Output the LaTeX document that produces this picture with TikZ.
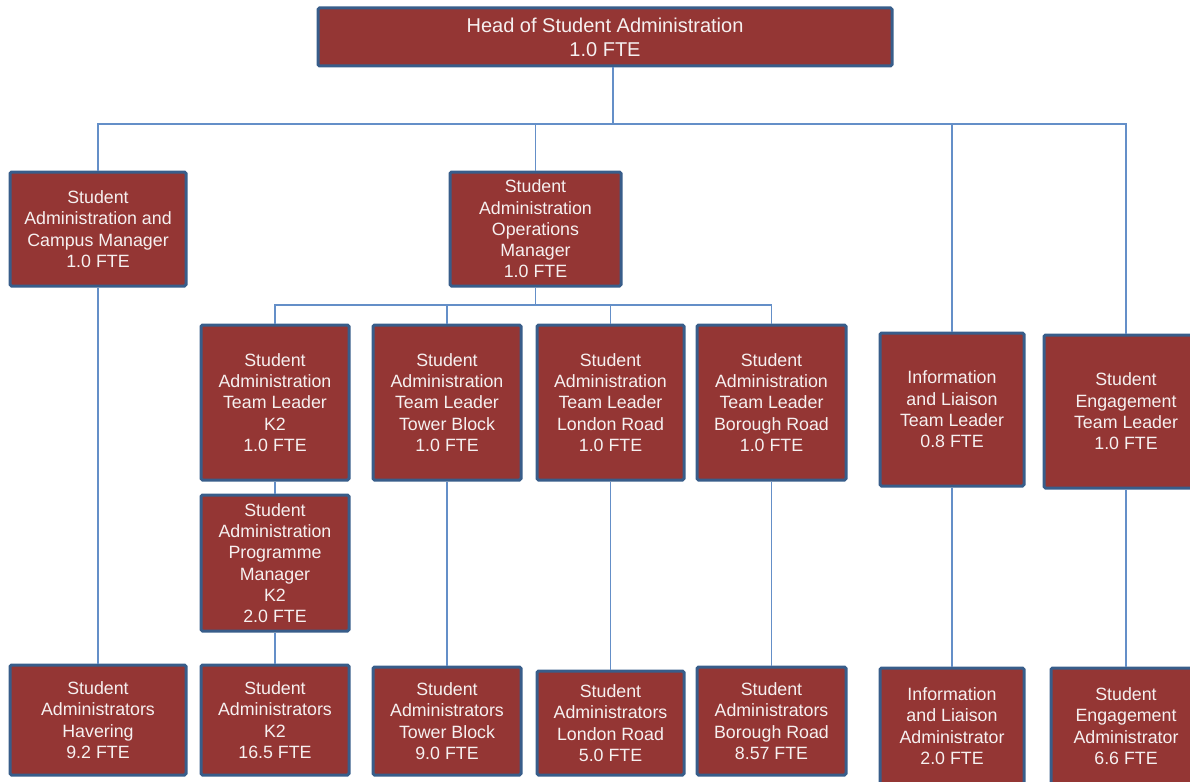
\documentclass[tikz,border=0pt]{standalone}
\usepackage{fontspec}
\setmainfont{Liberation Sans}
\definecolor{boxfill}{RGB}{148,54,52}
\definecolor{boxedge}{RGB}{56,93,138}
\definecolor{linkblue}{RGB}{100,143,200}
\definecolor{boxtext}{RGB}{246,240,240}
\begin{document}
\begin{tikzpicture}[x=1pt,y=-1pt,
  post/.style={draw=boxedge, line width=3pt, fill=boxfill, rounded corners=1.5pt,
    text=boxtext, align=center, inner sep=0pt,
    font=\fontsize{17.8pt}{21.3pt}\selectfont},
  headpost/.style={post, font=\fontsize{20pt}{24pt}\selectfont},
  link/.style={draw=linkblue, line width=1.4pt}]
\useasboundingbox (0,0) rectangle (1190,781);
\clip (0,0) rectangle (1190,781);

% top of the structure
\node[headpost, minimum width=574pt, minimum height=58pt] (head) at (605,37)
  {Head of Student Administration\\1.0 FTE};

% second tier
\node[post, minimum width=176pt, minimum height=114pt] (campus) at (98,229)
  {Student\\Administration and\\Campus Manager\\1.0 FTE};
\node[post, minimum width=171pt, minimum height=114pt] (ops) at (535.5,229)
  {Student\\Administration\\Operations\\Manager\\1.0 FTE};
\node[post, minimum width=144pt, minimum height=153pt] (infotl) at (952,409.5)
  {Information\\and Liaison\\Team Leader\\0.8 FTE};
\node[post, minimum width=164pt, minimum height=153pt] (engtl) at (1126,411.5)
  {Student\\Engagement\\Team Leader\\1.0 FTE};

% team leaders under operations
\node[post, minimum width=148pt, minimum height=155pt] (tlk2) at (275,402.5)
  {Student\\Administration\\Team Leader\\K2\\1.0 FTE};
\node[post, minimum width=148pt, minimum height=155pt] (tltb) at (447,402.5)
  {Student\\Administration\\Team Leader\\Tower Block\\1.0 FTE};
\node[post, minimum width=147pt, minimum height=155pt] (tllr) at (610.5,402.5)
  {Student\\Administration\\Team Leader\\London Road\\1.0 FTE};
\node[post, minimum width=149pt, minimum height=155pt] (tlbr) at (771.5,402.5)
  {Student\\Administration\\Team Leader\\Borough Road\\1.0 FTE};

\node[post, minimum width=148pt, minimum height=136pt] (progk2) at (275,563)
  {Student\\Administration\\Programme\\Manager\\K2\\2.0 FTE};

% administrator teams
\node[post, minimum width=176pt, minimum height=110pt] (sahav) at (98,720)
  {Student\\Administrators\\Havering\\9.2 FTE};
\node[post, minimum width=148pt, minimum height=110pt] (sak2) at (275,720)
  {Student\\Administrators\\K2\\16.5 FTE};
\node[post, minimum width=148pt, minimum height=108pt] (satb) at (447,721)
  {Student\\Administrators\\Tower Block\\9.0 FTE};
\node[post, minimum width=147pt, minimum height=104pt] (salr) at (610.5,723)
  {Student\\Administrators\\London Road\\5.0 FTE};
\node[post, minimum width=149pt, minimum height=108pt] (sabr) at (771.5,721)
  {Student\\Administrators\\Borough Road\\8.57 FTE};
\node[post, minimum width=144pt, minimum height=116pt] (infoadm) at (952,726)
  {Information\\and Liaison\\Administrator\\2.0 FTE};
\node[post, minimum width=150pt, minimum height=116pt] (engadm) at (1126,726)
  {Student\\Engagement\\Administrator\\6.6 FTE};

% reporting lines
\coordinate (hb) at (613,124);
\coordinate (ob) at (535,305);
\draw[link] (head.south -| hb) -- (hb);
\draw[link] (campus.north) -- (campus.north |- hb) -- (engtl.north |- hb) -- (engtl.north);
\draw[link] (ops.north) -- (ops.north |- hb);
\draw[link] (infotl.north) -- (infotl.north |- hb);

\draw[link] (ops.south) -- (ops.south |- ob);
\draw[link] (tlk2.north) -- (tlk2.north |- ob) -- (tlbr.north |- ob) -- (tlbr.north);
\draw[link] (tltb.north) -- (tltb.north |- ob);
\draw[link] (tllr.north) -- (tllr.north |- ob);

\draw[link] (campus.south) -- (sahav.north);
\draw[link] (tlk2.south) -- (progk2.north);
\draw[link] (progk2.south) -- (sak2.north);
\draw[link] (tltb.south) -- (satb.north);
\draw[link] (tllr.south) -- (salr.north);
\draw[link] (tlbr.south) -- (sabr.north);
\draw[link] (infotl.south) -- (infoadm.north);
\draw[link] (engtl.south) -- (engadm.north);
\end{tikzpicture}
\end{document}
